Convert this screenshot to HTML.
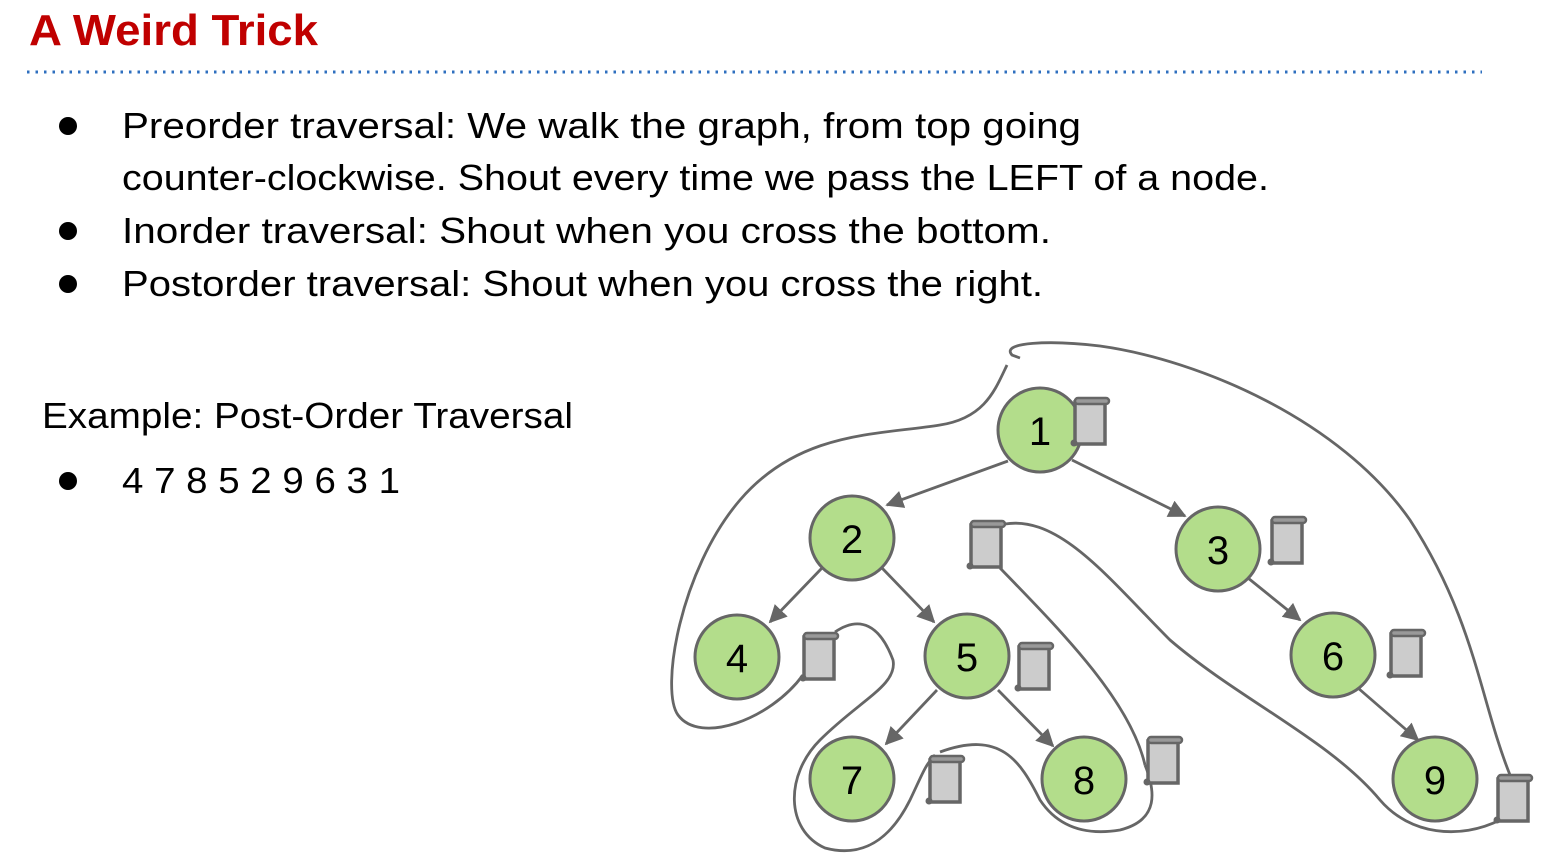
<!DOCTYPE html>
<html><head><meta charset="utf-8"><style>
html,body{margin:0;padding:0;background:#fff;width:1548px;height:860px;overflow:hidden}
svg{display:block}
text{font-family:"Liberation Sans",sans-serif}
</style></head><body>
<svg width="1548" height="860" viewBox="0 0 1548 860" xmlns="http://www.w3.org/2000/svg">
<defs>
<marker id="a" viewBox="0 0 10 10" markerWidth="18" markerHeight="18" refX="9" refY="5" orient="auto" markerUnits="userSpaceOnUse">
<path d="M0,0 L10,5 L0,10 z" fill="#666"/></marker>
<g id="sc">
<rect x="2" y="4" width="30" height="42" fill="#ccc" stroke="#666" stroke-width="3.5"/>
<rect x="2" y="0" width="34" height="6" rx="3" fill="#999" stroke="#666" stroke-width="2.5"/>
<circle cx="1" cy="45" r="3.5" fill="#666"/>
</g>
</defs>
<text x="29" y="45" font-size="44" font-weight="bold" fill="#c00000" textLength="289" lengthAdjust="spacingAndGlyphs">A Weird Trick</text>
<line x1="27" y1="72" x2="1482" y2="72" stroke="#2e6fbf" stroke-width="3" stroke-dasharray="2.5,6"/>
<g font-size="36" fill="#000">
<circle cx="68" cy="126" r="9"/>
<text x="122" y="138" textLength="959" lengthAdjust="spacingAndGlyphs">Preorder traversal: We walk the graph, from top going</text>
<text x="122" y="190" textLength="1147" lengthAdjust="spacingAndGlyphs">counter-clockwise. Shout every time we pass the LEFT of a node.</text>
<circle cx="68" cy="231" r="9"/>
<text x="122" y="243" textLength="929" lengthAdjust="spacingAndGlyphs">Inorder traversal: Shout when you cross the bottom.</text>
<circle cx="68" cy="284" r="9"/>
<text x="122" y="296" textLength="921" lengthAdjust="spacingAndGlyphs">Postorder traversal: Shout when you cross the right.</text>
<text x="42" y="428" textLength="531" lengthAdjust="spacingAndGlyphs">Example: Post-Order Traversal</text>
<circle cx="68" cy="481" r="9"/>
<text x="122" y="493" textLength="278" lengthAdjust="spacingAndGlyphs">4 7 8 5 2 9 6 3 1</text>
</g>
<g fill="none" stroke="#666" stroke-width="2.8">
<path d="M1007,365 C995,390 985,418 940,425 C880,435 800,430 740,500 C680,570 660,690 678,715 C700,745 770,720 803,675"/>
<path d="M835,632 C860,615 880,625 893,660 C898,685 860,700 820,740 C785,775 785,830 825,848 C870,860 895,830 910,800 C922,775 925,765 935,755"/>
<path d="M940,752 C1000,730 1020,760 1040,800 C1060,830 1090,835 1120,830 C1160,820 1155,790 1145,765"/>
<path d="M1145,765 C1130,700 1060,630 1000,568"/>
<path d="M1005,524 C1060,515 1110,580 1170,640 C1240,700 1330,740 1380,800 C1410,835 1460,840 1500,820"/>
<path d="M1510,775 C1480,700 1475,620 1410,520 C1340,420 1200,360 1100,346 C1050,340 1000,342 1012,355 L1020,358"/>
</g>
<g stroke="#666" stroke-width="2.8" marker-end="url(#a)">
<line x1="1008" y1="461" x2="887" y2="505"/>
<line x1="1072" y1="460" x2="1185" y2="516"/>
<line x1="822" y1="568" x2="770" y2="622"/>
<line x1="882" y1="568" x2="934" y2="622"/>
<line x1="1248" y1="578" x2="1300" y2="620"/>
<line x1="937" y1="690" x2="886" y2="744"/>
<line x1="998" y1="690" x2="1053" y2="746"/>
<line x1="1358" y1="688" x2="1418" y2="740"/>
</g>
<g fill="#b3dd8b" stroke="#666" stroke-width="3">
<circle cx="1040" cy="430" r="42"/><circle cx="852" cy="538" r="42"/><circle cx="1218" cy="549" r="42"/>
<circle cx="737" cy="657" r="42"/><circle cx="967" cy="656" r="42"/><circle cx="1333" cy="655" r="42"/>
<circle cx="852" cy="779" r="42"/><circle cx="1084" cy="779" r="42"/><circle cx="1435" cy="779" r="42"/>
</g>
<g font-size="40" text-anchor="middle" fill="#000">
<text x="1040" y="445">1</text><text x="852" y="553">2</text><text x="1218" y="564">3</text>
<text x="737" y="672">4</text><text x="967" y="671">5</text><text x="1333" y="670">6</text>
<text x="852" y="794">7</text><text x="1084" y="794">8</text><text x="1435" y="794">9</text>
</g>
<use href="#sc" x="1073" y="398"/>
<use href="#sc" x="1270" y="517"/>
<use href="#sc" x="969" y="521"/>
<use href="#sc" x="802" y="633"/>
<use href="#sc" x="1017" y="643"/>
<use href="#sc" x="1389" y="630"/>
<use href="#sc" x="928" y="756"/>
<use href="#sc" x="1146" y="737"/>
<use href="#sc" x="1496" y="775"/>
</svg>
</body></html>
